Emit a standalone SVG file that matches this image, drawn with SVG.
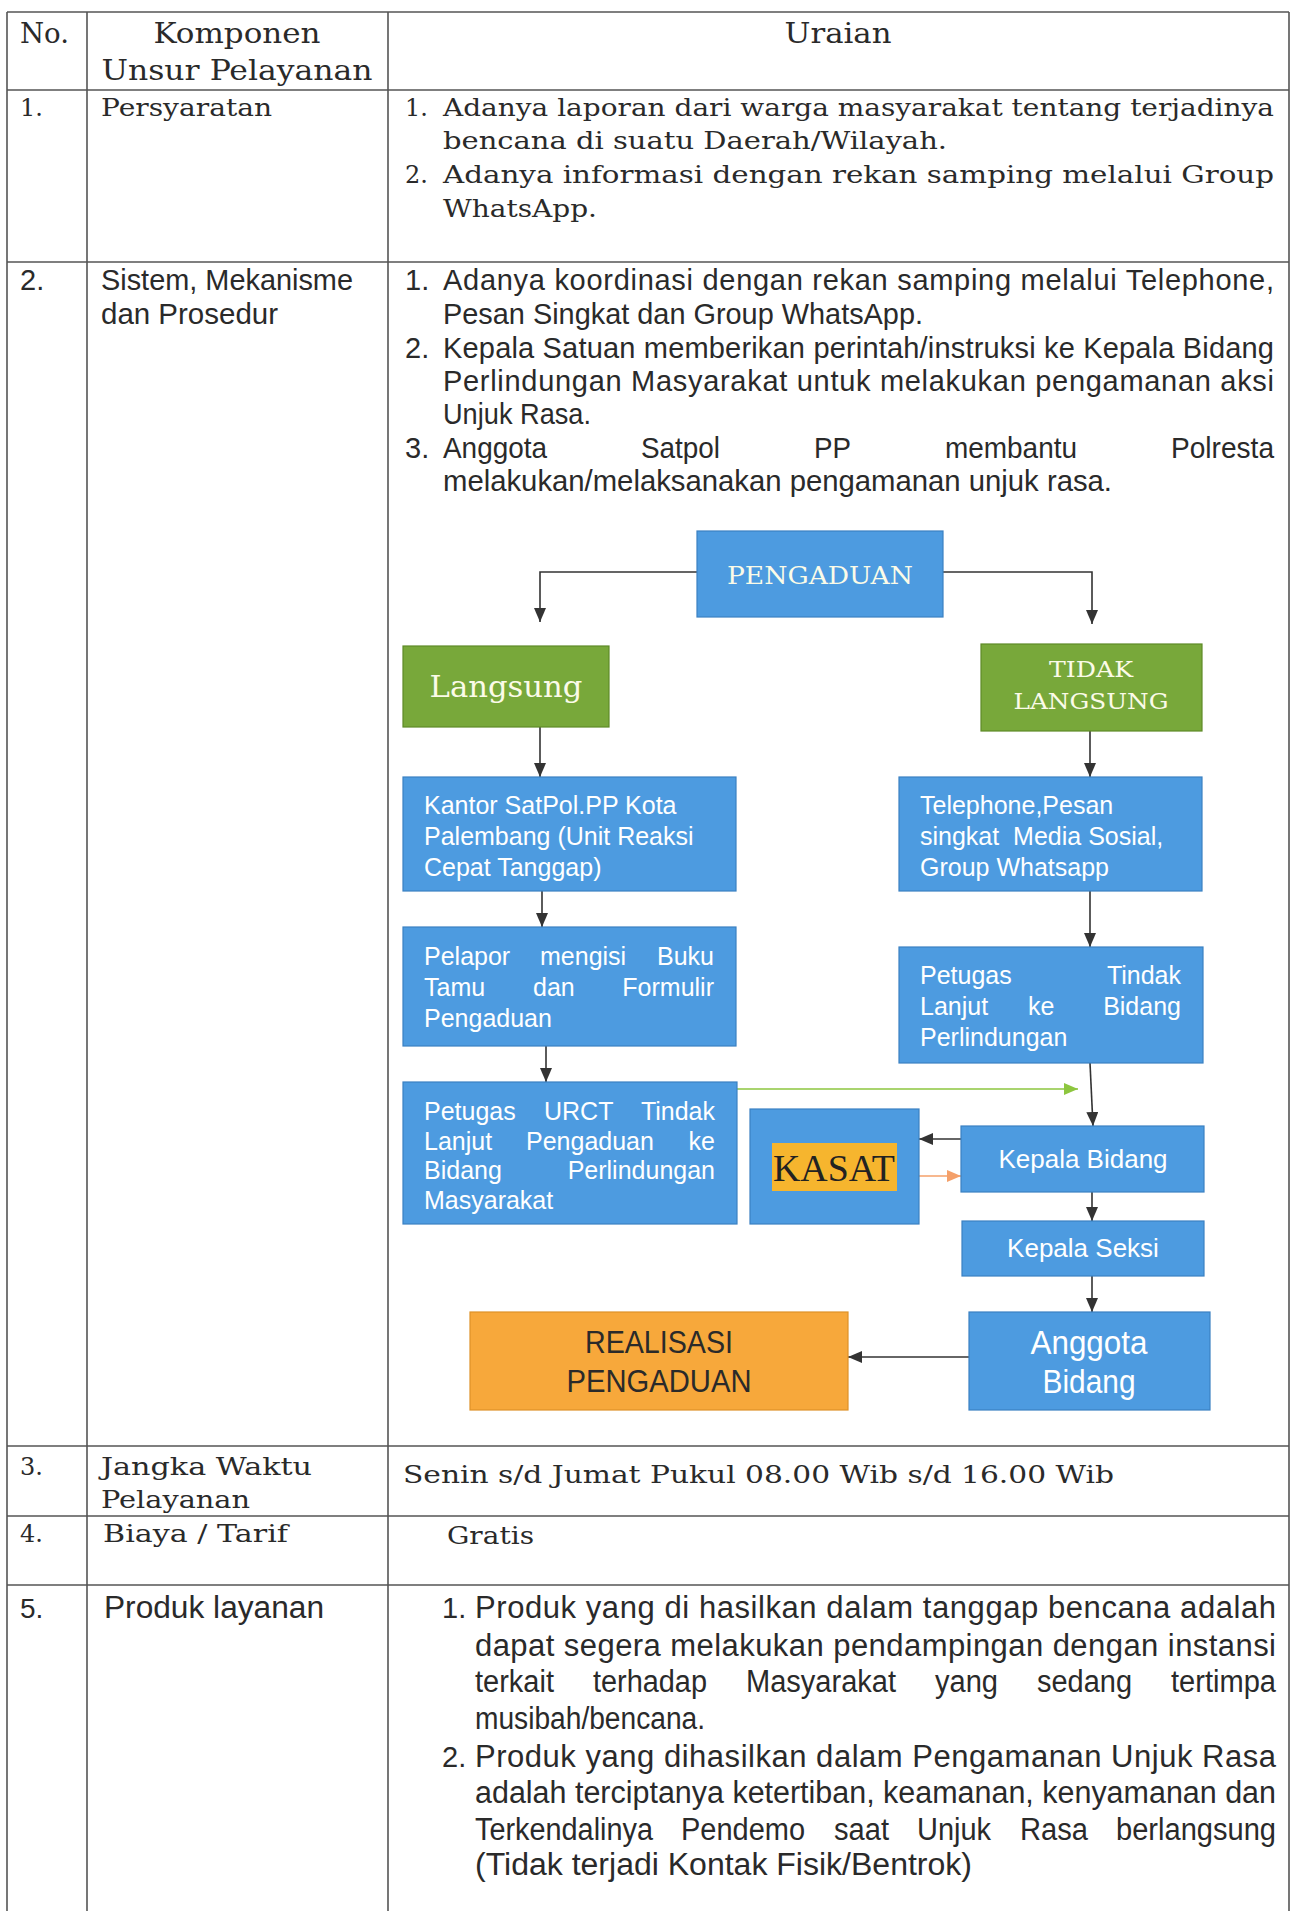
<svg xmlns="http://www.w3.org/2000/svg" width="1291" height="1911" viewBox="0 0 1291 1911">
<style>
.grid{stroke:#555;stroke-width:1.6;fill:none}
.sf{font-family:"DejaVu Serif","Liberation Serif",serif;fill:#2a2a2a}
.ss{font-family:"Liberation Sans",Arial,sans-serif;fill:#2a2a2a}
.blue{fill:#4d9be0;stroke:#3b80c2;stroke-width:1.2}
.green{fill:#78a83a;stroke:#5e8a27;stroke-width:1.2}
.bt{font-family:"Liberation Sans",Arial,sans-serif;font-size:25px;fill:#fff}
.bst{font-family:"DejaVu Serif","Liberation Serif",serif;fill:#fbfbe8}
.con{stroke:#333;stroke-width:1.6;fill:none}
</style>
<defs>
<marker id="ah" viewBox="0 0 14 12" refX="14" refY="6" markerWidth="14" markerHeight="12" markerUnits="userSpaceOnUse" orient="auto"><path d="M0,0 L14,6 L0,12 z" fill="#333"/></marker>
<marker id="ahg" viewBox="0 0 14 12" refX="14" refY="6" markerWidth="14" markerHeight="12" markerUnits="userSpaceOnUse" orient="auto"><path d="M0,0 L14,6 L0,12 z" fill="#8dc63f"/></marker>
<marker id="aho" viewBox="0 0 14 12" refX="14" refY="6" markerWidth="14" markerHeight="12" markerUnits="userSpaceOnUse" orient="auto"><path d="M0,0 L14,6 L0,12 z" fill="#f4a06a"/></marker>
</defs>
<rect width="1291" height="1911" fill="#fff"/>

<g id="table">
<path class="grid" d="M7,12 H1289 M7,12 V1911 M87,12 V1911 M388,12 V1911 M1289,12 V1911 M7,90 H1289 M7,262 H1289 M7,1446 H1289 M7,1516 H1289 M7,1585 H1289"/>
</g>

<g id="header" class="sf" font-size="28">
<text x="20" y="43" textLength="49" lengthAdjust="spacingAndGlyphs">No.</text>
<text x="237" y="43" text-anchor="middle" textLength="167" lengthAdjust="spacingAndGlyphs">Komponen</text>
<text x="237" y="80" text-anchor="middle" textLength="271" lengthAdjust="spacingAndGlyphs">Unsur Pelayanan</text>
<text x="838" y="43" text-anchor="middle" textLength="107" lengthAdjust="spacingAndGlyphs">Uraian</text>
</g>

<g id="row1" class="sf" font-size="24">
<text x="20" y="116">1.</text>
<text x="101" y="116" textLength="171" lengthAdjust="spacingAndGlyphs">Persyaratan</text>
<text x="405" y="116">1.</text>
<text x="443" y="116" textLength="831" lengthAdjust="spacingAndGlyphs">Adanya laporan dari warga masyarakat tentang terjadinya</text>
<text x="443" y="149" textLength="504" lengthAdjust="spacingAndGlyphs">bencana di suatu Daerah/Wilayah.</text>
<text x="405" y="183">2.</text>
<text x="443" y="183" textLength="831" lengthAdjust="spacingAndGlyphs">Adanya informasi dengan rekan samping melalui Group</text>
<text x="443" y="217" textLength="154" lengthAdjust="spacingAndGlyphs">WhatsApp.</text>
</g>

<g id="row2" class="ss" font-size="29">
<text x="20" y="290">2.</text>
<text x="101" y="290" textLength="252" lengthAdjust="spacingAndGlyphs">Sistem, Mekanisme</text>
<text x="101" y="324" textLength="177" lengthAdjust="spacingAndGlyphs">dan Prosedur</text>
<text x="405" y="290">1.</text>
<text x="443" y="290" textLength="831" lengthAdjust="spacing">Adanya koordinasi dengan rekan samping melalui Telephone,</text>
<text x="443" y="324" textLength="480" lengthAdjust="spacingAndGlyphs">Pesan Singkat dan Group WhatsApp.</text>
<text x="405" y="358">2.</text>
<text x="443" y="358" textLength="831" lengthAdjust="spacing">Kepala Satuan memberikan perintah/instruksi ke Kepala Bidang</text>
<text x="443" y="391" textLength="831" lengthAdjust="spacing">Perlindungan Masyarakat untuk melakukan pengamanan aksi</text>
<text x="443" y="424" textLength="148" lengthAdjust="spacingAndGlyphs">Unjuk Rasa.</text>
<text x="405" y="458">3.</text>
<text x="443" y="458" textLength="104" lengthAdjust="spacingAndGlyphs">Anggota</text>
<text x="641" y="458" textLength="79" lengthAdjust="spacingAndGlyphs">Satpol</text>
<text x="814" y="458" textLength="37" lengthAdjust="spacingAndGlyphs">PP</text>
<text x="945" y="458" textLength="132" lengthAdjust="spacingAndGlyphs">membantu</text>
<text x="1274" y="458" text-anchor="end" textLength="103" lengthAdjust="spacingAndGlyphs">Polresta</text>
<text x="443" y="491" textLength="669" lengthAdjust="spacingAndGlyphs">melakukan/melaksanakan pengamanan unjuk rasa.</text>
</g>

<g id="connectors">
<path class="con" d="M697,572 H540 V622" marker-end="url(#ah)"/>
<path class="con" d="M943,572 H1092 V624" marker-end="url(#ah)"/>
<path class="con" d="M540,727 V777" marker-end="url(#ah)"/>
<path class="con" d="M1090,731 V777" marker-end="url(#ah)"/>
<path class="con" d="M542,866 V927" marker-end="url(#ah)"/>
<path class="con" d="M1090,889 V947" marker-end="url(#ah)"/>
<path class="con" d="M546,1028 V1082" marker-end="url(#ah)"/>
<path class="con" d="M1090,1063 L1093,1126" marker-end="url(#ah)"/>
<path d="M737,1089 H1078" stroke="#8dc63f" stroke-width="1.6" fill="none" marker-end="url(#ahg)"/>
<path class="con" d="M961,1139 H919" marker-end="url(#ah)"/>
<path d="M919,1176 H961" stroke="#f4a06a" stroke-width="1.6" fill="none" marker-end="url(#aho)"/>
<path class="con" d="M1092,1192 V1221" marker-end="url(#ah)"/>
<path class="con" d="M1092,1276 V1312" marker-end="url(#ah)"/>
<path class="con" d="M969,1357 H848" marker-end="url(#ah)"/>
</g>

<g id="pengaduan">
<rect class="blue" x="697" y="531" width="246" height="86"/>
<text class="bst" x="820" y="584" font-size="25" text-anchor="middle" textLength="186" lengthAdjust="spacingAndGlyphs">PENGADUAN</text>
</g>
<g id="langsung">
<rect class="green" x="403" y="646" width="206" height="81"/>
<text class="bst" x="506" y="697" font-size="30" text-anchor="middle" textLength="153" lengthAdjust="spacingAndGlyphs">Langsung</text>
</g>
<g id="tidak-langsung">
<rect class="green" x="981" y="644" width="221" height="87"/>
<text class="bst" x="1091" y="677" font-size="22" text-anchor="middle" textLength="84" lengthAdjust="spacingAndGlyphs">TIDAK</text>
<text class="bst" x="1091" y="709" font-size="22" text-anchor="middle" textLength="155" lengthAdjust="spacingAndGlyphs">LANGSUNG</text>
</g>
<g id="kantor">
<rect class="blue" x="403" y="777" width="333" height="114"/>
<text class="bt" x="424" y="814">Kantor SatPol.PP Kota</text>
<text class="bt" x="424" y="845">Palembang (Unit Reaksi</text>
<text class="bt" x="424" y="876">Cepat Tanggap)</text>
</g>
<g id="telephone">
<rect class="blue" x="899" y="777" width="303" height="114"/>
<text class="bt" x="920" y="814">Telephone,Pesan</text>
<text class="bt" x="920" y="845" xml:space="preserve">singkat  Media Sosial,</text>
<text class="bt" x="920" y="876">Group Whatsapp</text>
</g>
<g id="pelapor">
<rect class="blue" x="403" y="927" width="333" height="119"/>
<text class="bt" x="424" y="965">Pelapor</text>
<text class="bt" x="540" y="965">mengisi</text>
<text class="bt" x="714" y="965" text-anchor="end">Buku</text>
<text class="bt" x="424" y="996">Tamu</text>
<text class="bt" x="533" y="996">dan</text>
<text class="bt" x="714" y="996" text-anchor="end">Formulir</text>
<text class="bt" x="424" y="1027">Pengaduan</text>
</g>
<g id="petugas-tindak">
<rect class="blue" x="899" y="947" width="304" height="116"/>
<text class="bt" x="920" y="984">Petugas</text>
<text class="bt" x="1181" y="984" text-anchor="end">Tindak</text>
<text class="bt" x="920" y="1015">Lanjut</text>
<text class="bt" x="1028" y="1015">ke</text>
<text class="bt" x="1181" y="1015" text-anchor="end">Bidang</text>
<text class="bt" x="920" y="1046">Perlindungan</text>
</g>
<g id="petugas-urct">
<rect class="blue" x="403" y="1082" width="334" height="142"/>
<text class="bt" x="424" y="1120">Petugas</text>
<text class="bt" x="544" y="1120">URCT</text>
<text class="bt" x="715" y="1120" text-anchor="end">Tindak</text>
<text class="bt" x="424" y="1150">Lanjut</text>
<text class="bt" x="526" y="1150">Pengaduan</text>
<text class="bt" x="715" y="1150" text-anchor="end">ke</text>
<text class="bt" x="424" y="1179">Bidang</text>
<text class="bt" x="715" y="1179" text-anchor="end">Perlindungan</text>
<text class="bt" x="424" y="1209">Masyarakat</text>
</g>
<g id="kasat">
<rect class="blue" x="750" y="1109" width="169" height="115"/>
<rect x="772" y="1143" width="125" height="48" fill="#f6b52e"/>
<text x="834" y="1181" font-family="'Liberation Serif',serif" font-size="38" fill="#222" text-anchor="middle" textLength="122" lengthAdjust="spacingAndGlyphs">KASAT</text>
</g>
<g id="kepala-bidang">
<rect class="blue" x="961" y="1126" width="243" height="66"/>
<text class="bt" x="1083" y="1168" text-anchor="middle" style="font-size:26px">Kepala Bidang</text>
</g>
<g id="kepala-seksi">
<rect class="blue" x="962" y="1221" width="242" height="55"/>
<text class="bt" x="1083" y="1257" text-anchor="middle" style="font-size:26px">Kepala Seksi</text>
</g>
<g id="anggota-bidang">
<rect class="blue" x="969" y="1312" width="241" height="98"/>
<text class="bt" x="1089" y="1354" text-anchor="middle" style="font-size:33px" textLength="117" lengthAdjust="spacingAndGlyphs">Anggota</text>
<text class="bt" x="1089" y="1393" text-anchor="middle" style="font-size:33px" textLength="93" lengthAdjust="spacingAndGlyphs">Bidang</text>
</g>
<g id="realisasi">
<rect x="470" y="1312" width="378" height="98" fill="#f7a83b" stroke="#de9228" stroke-width="1.2"/>
<text class="ss" x="659" y="1353" font-size="31" text-anchor="middle" fill="#333" textLength="148" lengthAdjust="spacingAndGlyphs">REALISASI</text>
<text class="ss" x="659" y="1392" font-size="31" text-anchor="middle" fill="#333" textLength="185" lengthAdjust="spacingAndGlyphs">PENGADUAN</text>
</g>

<g id="row3" class="sf" font-size="24">
<text x="20" y="1475">3.</text>
<text x="101" y="1475" textLength="211" lengthAdjust="spacingAndGlyphs">Jangka Waktu</text>
<text x="101" y="1508" textLength="149" lengthAdjust="spacingAndGlyphs">Pelayanan</text>
<text x="403" y="1483" textLength="711" lengthAdjust="spacingAndGlyphs">Senin s/d Jumat Pukul 08.00 Wib s/d 16.00 Wib</text>
</g>
<g id="row4" class="sf" font-size="24">
<text x="20" y="1542">4.</text>
<text x="103" y="1542" textLength="185" lengthAdjust="spacingAndGlyphs">Biaya / Tarif</text>
<text x="447" y="1544" textLength="87" lengthAdjust="spacingAndGlyphs">Gratis</text>
</g>
<g id="row5" class="ss" font-size="31">
<text x="20" y="1618" font-size="28">5.</text>
<text x="104" y="1618" textLength="220" lengthAdjust="spacingAndGlyphs">Produk layanan</text>
<text x="442" y="1618" font-size="29">1.</text>
<text x="475" y="1618" textLength="801" lengthAdjust="spacing">Produk yang di hasilkan dalam tanggap bencana adalah</text>
<text x="475" y="1656" textLength="801" lengthAdjust="spacing">dapat segera melakukan pendampingan dengan instansi</text>
<text x="475" y="1692" textLength="79" lengthAdjust="spacingAndGlyphs">terkait</text>
<text x="593" y="1692" textLength="114" lengthAdjust="spacingAndGlyphs">terhadap</text>
<text x="746" y="1692" textLength="150" lengthAdjust="spacingAndGlyphs">Masyarakat</text>
<text x="935" y="1692" textLength="63" lengthAdjust="spacingAndGlyphs">yang</text>
<text x="1037" y="1692" textLength="95" lengthAdjust="spacingAndGlyphs">sedang</text>
<text x="1276" y="1692" text-anchor="end" textLength="105" lengthAdjust="spacingAndGlyphs">tertimpa</text>
<text x="475" y="1729" textLength="230" lengthAdjust="spacingAndGlyphs">musibah/bencana.</text>
<text x="442" y="1767" font-size="29">2.</text>
<text x="475" y="1767" textLength="801" lengthAdjust="spacing">Produk yang dihasilkan dalam Pengamanan Unjuk Rasa</text>
<text x="475" y="1803" textLength="801" lengthAdjust="spacingAndGlyphs">adalah terciptanya ketertiban, keamanan, kenyamanan dan</text>
<text x="475" y="1840" textLength="178" lengthAdjust="spacingAndGlyphs">Terkendalinya</text>
<text x="681" y="1840" textLength="124" lengthAdjust="spacingAndGlyphs">Pendemo</text>
<text x="834" y="1840" textLength="55" lengthAdjust="spacingAndGlyphs">saat</text>
<text x="917" y="1840" textLength="74" lengthAdjust="spacingAndGlyphs">Unjuk</text>
<text x="1020" y="1840" textLength="68" lengthAdjust="spacingAndGlyphs">Rasa</text>
<text x="1276" y="1840" text-anchor="end" textLength="160" lengthAdjust="spacingAndGlyphs">berlangsung</text>
<text x="475" y="1875" textLength="497" lengthAdjust="spacingAndGlyphs">(Tidak terjadi Kontak Fisik/Bentrok)</text>
</g>
</svg>
